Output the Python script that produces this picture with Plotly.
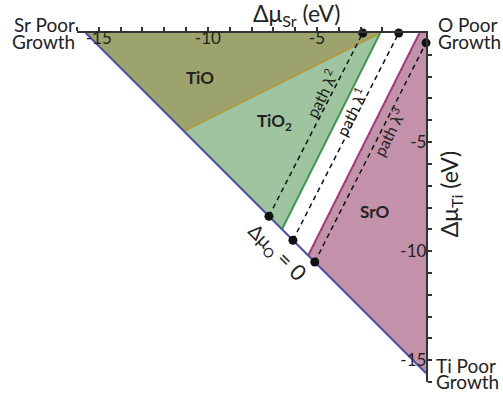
import plotly.graph_objects as go

# ---- data (chemical potentials, eV) ----
enthalpy = -15.6  # Δμ_Sr + Δμ_Ti on the Δμ_O = 0 line
axis_range = [-16, 0]
tick_vals = [-15, -10, -5]
tick_text = ["-15", "-10", "-5"]

tio_sr = [-15.6, -2.1, -11.1]
tio_ti = [0.0, 0.0, -4.5]
tio2_sr = [-11.1, -2.1, -6.6]
tio2_ti = [-4.5, 0.0, -9.0]
sro_sr = [-0.3, 0.0, 0.0, -5.4]
sro_ti = [0.0, 0.0, -15.6, -10.2]

hyp_sr = [-15.6, 0.0]
hyp_ti = [0.0, -15.6]
gold_sr = [-11.1, -2.1]
gold_ti = [-4.5, 0.0]
green_sr = [-6.6, -2.1]
green_ti = [-9.0, 0.0]
mag_sr = [-5.4, -0.3]
mag_ti = [-10.2, 0.0]

path2_sr = [-7.2, -2.9]
path2_ti = [-8.4, 0.0]
path1_sr = [-6.1, -1.25]
path1_ti = [-9.5, 0.0]
path3_sr = [-5.1, 0.0]
path3_ti = [-10.5, -0.45]

FONT = "Lato"
TXT = "#222222"

fig = go.Figure()

def poly(xs, ys, color):
    fig.add_trace(go.Scatter(x=xs + xs[:1], y=ys + ys[:1], fill="toself", fillcolor=color,
                             mode="none", hoverinfo="skip", showlegend=False))

poly(tio_sr, tio_ti, "#9CA36C")
poly(tio2_sr, tio2_ti, "#9FC49F")
poly(sro_sr, sro_ti, "#C391A9")

def line(xs, ys, color, width=2, dash="solid"):
    fig.add_trace(go.Scatter(x=xs, y=ys, mode="lines", line=dict(color=color, width=width, dash=dash),
                             hoverinfo="skip", showlegend=False, cliponaxis=False))

line(gold_sr, gold_ti, "#B39A45")
line(green_sr, green_ti, "#3B9B4F")
line(mag_sr, mag_ti, "#9C3D7A")
line(hyp_sr, hyp_ti, "#4B52A6")
for xs, ys in [(path2_sr, path2_ti), (path1_sr, path1_ti), (path3_sr, path3_ti)]:
    line(xs, ys, "#111111", width=1.5, dash="5px,4px")
    fig.add_trace(go.Scatter(x=xs, y=ys, mode="markers", marker=dict(color="#111111", size=9),
                             hoverinfo="skip", showlegend=False, cliponaxis=False))

axis_common = dict(range=axis_range, showline=True, linecolor="#333333", linewidth=2,
                   ticks="outside", ticklen=4, tickwidth=1.5, tickcolor="#333333",
                   tickmode="array", tickvals=tick_vals, ticktext=tick_text,
                   ticklabelposition="inside", tickfont=dict(family=FONT, size=17, color=TXT),
                   showgrid=False, zeroline=False,
                   minor=dict(tick0=0, dtick=1, ticks="outside", ticklen=4, tickcolor="#333333", showgrid=False))

fig.update_xaxes(side="top", **axis_common)
fig.update_yaxes(side="right", **axis_common)

span = axis_range[1] - axis_range[0]

def ann(text, x, y, size, angle=0, xanchor="center", color=TXT):
    # positions given in data units, converted to paper fractions so labels outside the axes still show
    fig.add_annotation(text=text, x=(x - axis_range[0]) / span, y=(y - axis_range[0]) / span,
                       xref="paper", yref="paper", showarrow=False, textangle=angle,
                       xanchor=xanchor, yanchor="middle",
                       font=dict(family=FONT, size=size, color=color))

ann("Δμ<sub>Sr</sub> (eV)", -5.92, 0.86, 23)
ann("Δμ<sub>Ti</sub> (eV)", 1.1, -7.39, 23, angle=-90)
ann("Sr Poor", -16.0, 0.37, 19, xanchor="right")
ann("Growth", -16.0, -0.37, 19, xanchor="right")
ann("O Poor", 0.45, 0.37, 19, xanchor="left")
ann("Growth", 0.45, -0.37, 19, xanchor="left")
ann("Ti Poor", 0.35, -15.23, 19, xanchor="left")
ann("Growth", 0.35, -15.96, 19, xanchor="left")
ann("<b>TiO</b>", -10.37, -2.02, 17)
ann("<b>TiO<sub>2</sub></b>", -6.93, -4.08, 17)
ann("<b>SrO</b>", -2.34, -8.17, 17)
ann("Δμ<sub>O</sub> <span style='font-size:22px'>= 0</span>", -6.79, -10.05, 19, angle=45)
ann("path λ<sup>2</sup>", -4.77, -2.75, 16, angle=-63.4)
ann("path λ<sup>1</sup>", -3.44, -3.58, 16, angle=-63.4)
ann("path λ<sup>3</sup>", -1.74, -4.54, 16, angle=-63.4)

fig.update_layout(width=503, height=401, margin=dict(l=77, r=77, t=33, b=19),
                  plot_bgcolor="white", paper_bgcolor="white", showlegend=False)

# remove the default 8px page margin so the figure fills the window exactly
fig.write_html("out.html", config={"displayModeBar": False},
               post_script="document.body.style.margin='0';")
